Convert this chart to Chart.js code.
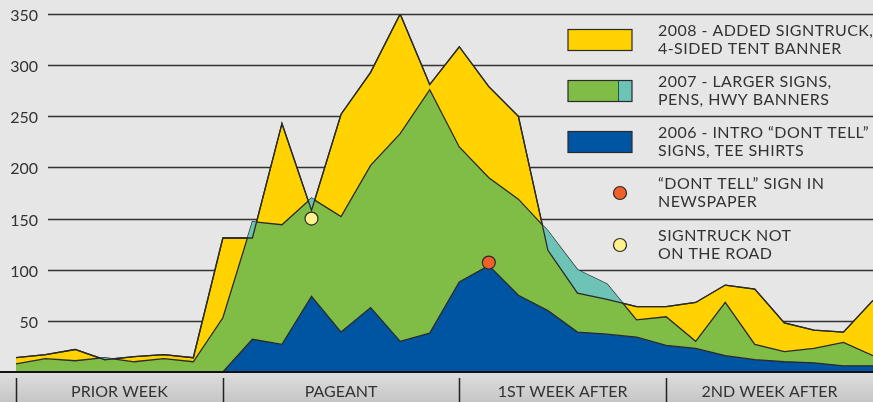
<!DOCTYPE html>
<html>
<head>
<meta charset="utf-8">
<script src="https://cdn.jsdelivr.net/npm/chart.js@4.4.1/dist/chart.umd.min.js"></script>
<style>
  body { margin: 0; background: #e6e6e6; }
  #wrap { width: 873px; height: 402px; position: relative; }
</style>
</head>
<body>
<div id="wrap"><canvas id="myChart"></canvas></div>
<script>
// days of the campaign, 30 points
const days = ['P1','P2','P3','P4','P5','P6','P7','G1','G2','G3','G4','G5','G6','G7','G8','A1','A2','A3','A4','A5','A6','A7','B1','B2','B3','B4','B5','B6','B7','B8'];

const y2008 = [14, 17, 22, 12, 15, 17, 14, 131, 131, 243, 158, 252, 293, 350, 281, 318, 279, 250, 119, 77, 71, 64, 64, 68, 85, 81, 48, 41, 39, 70];
const y2007 = [8, 13, 11, 14, 10, 13, 10, 53, 147, 144, 170, 152, 202, 233, 276, 220, 190, 169, 138, 100, 86, 51, 54, 30, 68, 27, 20, 23, 29, 16];
const y2006 = [0, 0, 0, 0, 0, 0, 0, 0, 32, 27, 74, 39, 63, 30, 38, 88, 104, 75, 60, 39, 37, 34, 26, 23, 16, 12, 10, 9, 6, 6];

// markers
const newspaperDot = [{ x: 'A2', y: 107 }];
const noTruckDot = [{ x: 'G4', y: 150 }];

const yTicks = [50, 100, 150, 200, 250, 300, 350];
const weekLabels = ['PRIOR WEEK', 'PAGEANT', '1ST WEEK AFTER', '2ND WEEK AFTER'];
const weekBounds = [0, 7, 15, 22, 29];

const YELLOW = '#ffd200';
const GREEN = '#80bd47';
const TEAL = '#6cc3b6';
const BLUE = '#0055a3';
const RED = '#f0602a';
const PALE = '#fff28a';
const INK = '#2a2a2a';
const FONT = 'Lato, "Open Sans", sans-serif';

const legendRows = [
  { kind: 'box', colors: [YELLOW], lines: ['2008 - ADDED SIGNTRUCK,', '4-SIDED TENT BANNER'], y: 40 },
  { kind: 'box', colors: [GREEN, TEAL], lines: ['2007 - LARGER SIGNS,', 'PENS, HWY BANNERS'], y: 91 },
  { kind: 'box', colors: [BLUE], lines: ['2006 - INTRO \u201CDONT TELL\u201D', 'SIGNS, TEE SHIRTS'], y: 142 },
  { kind: 'dot', colors: [RED], lines: ['\u201CDONT TELL\u201D SIGN IN', 'NEWSPAPER'], y: 193 },
  { kind: 'dot', colors: [PALE], lines: ['SIGNTRUCK NOT', 'ON THE ROAD'], y: 245 }
];

const decor = {
  id: 'decor',
  beforeDatasetsDraw(chart) {
    const ctx = chart.ctx;
    const y = chart.scales.y;
    const right = chart.width;
    ctx.save();
    ctx.strokeStyle = '#333';
    ctx.lineWidth = 1.3;
    ctx.fillStyle = '#333';
    ctx.font = '16px ' + FONT;
    ctx.textAlign = 'right';
    ctx.textBaseline = 'middle';
    yTicks.forEach(function (t) {
      const py = Math.round(y.getPixelForValue(t)) + 0.5;
      ctx.beginPath();
      ctx.moveTo(48, py);
      ctx.lineTo(right, py);
      ctx.stroke();
      ctx.fillText(String(t), 38, py + 1);
    });
    ctx.restore();
  },
  afterDatasetsDraw(chart) {
    const ctx = chart.ctx;
    const x = chart.scales.x;
    const area = chart.chartArea;
    ctx.save();
    // bottom band
    const g = ctx.createLinearGradient(0, area.bottom, 0, chart.height);
    g.addColorStop(0, '#dedede');
    g.addColorStop(1, '#c6c6c6');
    ctx.fillStyle = g;
    ctx.fillRect(0, area.bottom, chart.width, chart.height - area.bottom);
    // axis line
    ctx.strokeStyle = '#111';
    ctx.lineWidth = 2;
    ctx.beginPath();
    ctx.moveTo(0, area.bottom);
    ctx.lineTo(chart.width, area.bottom);
    ctx.stroke();
    // week separators + labels
    ctx.lineWidth = 1.5;
    ctx.strokeStyle = '#222';
    ctx.fillStyle = '#333';
    ctx.font = '16px ' + FONT;
    ctx.textAlign = 'center';
    ctx.textBaseline = 'middle';
    for (let i = 0; i < weekLabels.length; i++) {
      const x0 = x.getPixelForValue(weekBounds[i]);
      const x1 = x.getPixelForValue(weekBounds[i + 1]);
      ctx.beginPath();
      ctx.moveTo(Math.round(x0) + 0.5, area.bottom + 6);
      ctx.lineTo(Math.round(x0) + 0.5, chart.height);
      ctx.stroke();
      ctx.fillText(weekLabels[i], (x0 + x1) / 2, area.bottom + 20);
    }
    // legend
    ctx.textAlign = 'left';
    legendRows.forEach(function (r) {
      if (r.kind === 'box') {
        if (r.colors.length === 1) {
          ctx.fillStyle = r.colors[0];
          ctx.fillRect(568, r.y - 10.5, 64, 21);
        } else {
          ctx.fillStyle = r.colors[0];
          ctx.fillRect(568, r.y - 10.5, 50, 21);
          ctx.fillStyle = r.colors[1];
          ctx.fillRect(618, r.y - 10.5, 14, 21);
          ctx.strokeStyle = '#1c5a4a';
          ctx.lineWidth = 1;
          ctx.beginPath();
          ctx.moveTo(618.5, r.y - 10.5);
          ctx.lineTo(618.5, r.y + 10.5);
          ctx.stroke();
        }
        ctx.strokeStyle = INK;
        ctx.lineWidth = 1.2;
        ctx.strokeRect(568, r.y - 10.5, 64, 21);
      } else {
        ctx.fillStyle = r.colors[0];
        ctx.strokeStyle = INK;
        ctx.lineWidth = 1.2;
        ctx.beginPath();
        ctx.arc(620, r.y, 6.5, 0, Math.PI * 2);
        ctx.fill();
        ctx.stroke();
      }
      ctx.fillStyle = '#333';
      ctx.letterSpacing = '0.45px';
      ctx.fillText(r.lines[0], 658, r.y - 9);
      ctx.fillText(r.lines[1], 658, r.y + 9);
      ctx.letterSpacing = '0px';
    });
    ctx.restore();
  }
};

const areaBase = {
  tension: 0,
  pointRadius: 0,
  pointHoverRadius: 0,
  borderColor: INK,
  borderWidth: 1.3
};

new Chart('myChart', {
  type: 'line',
  data: {
    labels: days,
    datasets: [
      Object.assign({}, areaBase, { label: '2008', data: y2008, backgroundColor: YELLOW, fill: 'origin', order: 5 }),
      Object.assign({}, areaBase, { label: '2007', data: y2007, backgroundColor: GREEN, fill: 'origin', order: 4 }),
      Object.assign({}, areaBase, { label: '2007 over 2008', data: y2007, borderWidth: 0,
        fill: { target: 0, above: TEAL, below: 'rgba(0,0,0,0)' }, order: 3 }),
      Object.assign({}, areaBase, { label: '2008 line', data: y2008, fill: false, order: 2 }),
      Object.assign({}, areaBase, { label: '2006', data: y2006, backgroundColor: BLUE, fill: 'origin', order: 1 }),
      { label: 'newspaper', data: newspaperDot, showLine: false, pointRadius: 6.5, pointBackgroundColor: RED,
        pointBorderColor: INK, pointBorderWidth: 1.2, order: 0 },
      { label: 'no truck', data: noTruckDot, showLine: false, pointRadius: 6.5, pointBackgroundColor: PALE,
        pointBorderColor: INK, pointBorderWidth: 1.2, order: 0 }
    ]
  },
  options: {
    responsive: true,
    maintainAspectRatio: false,
    animation: false,
    layout: { autoPadding: false, padding: { left: 16, right: 0, top: 14, bottom: 30 } },
    scales: {
      x: { display: false, offset: false },
      y: { display: false, min: 0, max: 350 }
    },
    plugins: {
      legend: { display: false },
      tooltip: { enabled: false }
    }
  },
  plugins: [decor]
});
</script>
</body>
</html>
